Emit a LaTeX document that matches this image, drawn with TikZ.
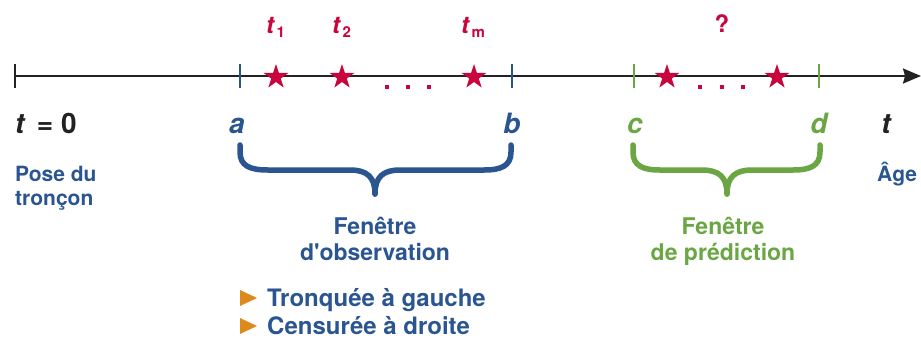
\documentclass[tikz,border=0pt]{standalone}
\usepackage{fontspec}
\setmainfont{TeX Gyre Heros}
\usetikzlibrary{arrows.meta,shapes.geometric}
\definecolor{cblue}{HTML}{2A5590}
\definecolor{cgreen}{HTML}{6BA644}
\definecolor{cred}{HTML}{C8053D}
\definecolor{corange}{HTML}{DC8A1E}
\definecolor{cblack}{HTML}{222222}
\tikzset{
  redstar/.style={star, star points=5, star point ratio=2.6, fill=cred, draw=none, minimum size=26pt, inner sep=0pt},
  reddot/.style={fill=cred, draw=none, minimum size=3.5pt, inner sep=0pt},
  bigl/.style={font=\bfseries\itshape\fontsize{28}{28}\selectfont, inner sep=0pt},
  subl/.style={font=\bfseries\fontsize{24}{24}\selectfont, text=cred, inner sep=0pt},
  txt/.style={font=\bfseries\fontsize{21}{21}\selectfont, inner sep=0pt},
  wtxt/.style={font=\bfseries\fontsize{23}{23}\selectfont, inner sep=0pt},
  btxt/.style={font=\bfseries\fontsize{24}{24}\selectfont, inner sep=0pt},
  tick/.style={line width=1.6pt},
  bracepath/.style={line width=5.5pt, line cap=round, line join=round},
}
\newcommand{\tsub}[1]{\textit{t}\hspace{1.5pt}\raisebox{-4.5pt}{\fontsize{15}{15}\selectfont #1}}
\begin{document}
\begin{tikzpicture}[x=1pt,y=-1pt]
\useasboundingbox (0,0) rectangle (921,338);
% axis
\coordinate (o) at (15,76);
\coordinate (e) at (921,76);
\draw[cblack, line width=1.9pt, -{Stealth[length=18pt,width=15pt,inset=2pt]}] (o) -- (e);
\draw[cblack, line width=2pt] (15,64) -- (15,88);
% ticks
\draw[tick, cblue] (240,64) -- (240,88);
\draw[tick, cblue] (512,64) -- (512,88);
\draw[tick, cgreen] (634,64) -- (634,88);
\draw[tick, cgreen] (819,64) -- (819,88);
% stars
\node[redstar] (s1) at (276,77) {};
\node[redstar] (s2) at (342,77) {};
\node[redstar] (s3) at (474,77) {};
\node[redstar] (s4) at (667,77) {};
\node[redstar] (s5) at (777,77) {};
% dots
\foreach \x/\n in {387/d1,408/d2,429/d3,700/d4,722/d5,743/d6}
  \node[reddot] (\n) at (\x,87) {};
% top labels
\node[subl, anchor=base west] (l1) at (266,33) {\tsub{1}};
\node[subl, anchor=base west] (l2) at (332,33) {\tsub{2}};
\node[subl, anchor=base west] (l3) at (461,33) {\tsub{m}};
\node[subl, anchor=base, font=\bfseries\fontsize{24}{24}\selectfont] (q) at (722,32) {?};
% axis labels
\node[bigl, anchor=base west, text=cblack] (t0) at (15,133) {t\,\upshape{} = 0};
\node[bigl, anchor=base, text=cblue] (la) at (237,133) {a};
\node[bigl, anchor=base, text=cblue] (lb) at (512,133) {b};
\node[bigl, anchor=base, text=cgreen] (lc) at (635,133) {c};
\node[bigl, anchor=base, text=cgreen] (ld) at (819,133) {d};
\node[bigl, anchor=base, text=cblack] (lt) at (886,133) {t};
% side texts
\node[txt, anchor=base west, text=cblue] (p1) at (15,181) {Pose du};
\node[txt, anchor=base west, text=cblue] (p2) at (15,205) {tronçon};
\node[txt, anchor=base west, text=cblue] (age) at (877,181) {Âge};
% braces
\draw[bracepath, cblue] (240,145) -- (240,152) .. controls (240,166) and (250,170) .. (268,170) -- (350,170) .. controls (367,170) and (375,177) .. (375,194);
\draw[bracepath, cblue] (375,194) .. controls (375,177) and (383,170) .. (400,170) -- (484,170) .. controls (501,170) and (511,166) .. (511,152) -- (511,145);
\draw[bracepath, cgreen] (633,145) -- (633,152) .. controls (633,166) and (643,170) .. (660,170) -- (702,170) .. controls (719,170) and (727,177) .. (727,194);
\draw[bracepath, cgreen] (727,194) .. controls (727,177) and (735,170) .. (752,170) -- (793,170) .. controls (810,170) and (820,166) .. (820,152) -- (820,145);
% window labels
\node[wtxt, anchor=base, text=cblue] (f1) at (375,234) {Fenêtre};
\node[wtxt, anchor=base, text=cblue] (f2) at (375,260) {d\textquotesingle observation};
\node[wtxt, anchor=base, text=cgreen] (g1) at (723,234) {Fenêtre};
\node[wtxt, anchor=base, text=cgreen] (g2) at (723,260) {de prédiction};
% bullets
\fill[corange] (240,290) -- (240,306) -- (257,298) -- cycle;
\fill[corange] (240,318) -- (240,334) -- (257,326) -- cycle;
\node[btxt, anchor=base west, text=cblue] (b1) at (267,306) {Tronquée à gauche};
\node[btxt, anchor=base west, text=cblue] (b2) at (267,334) {Censurée à droite};
\end{tikzpicture}
\end{document}
